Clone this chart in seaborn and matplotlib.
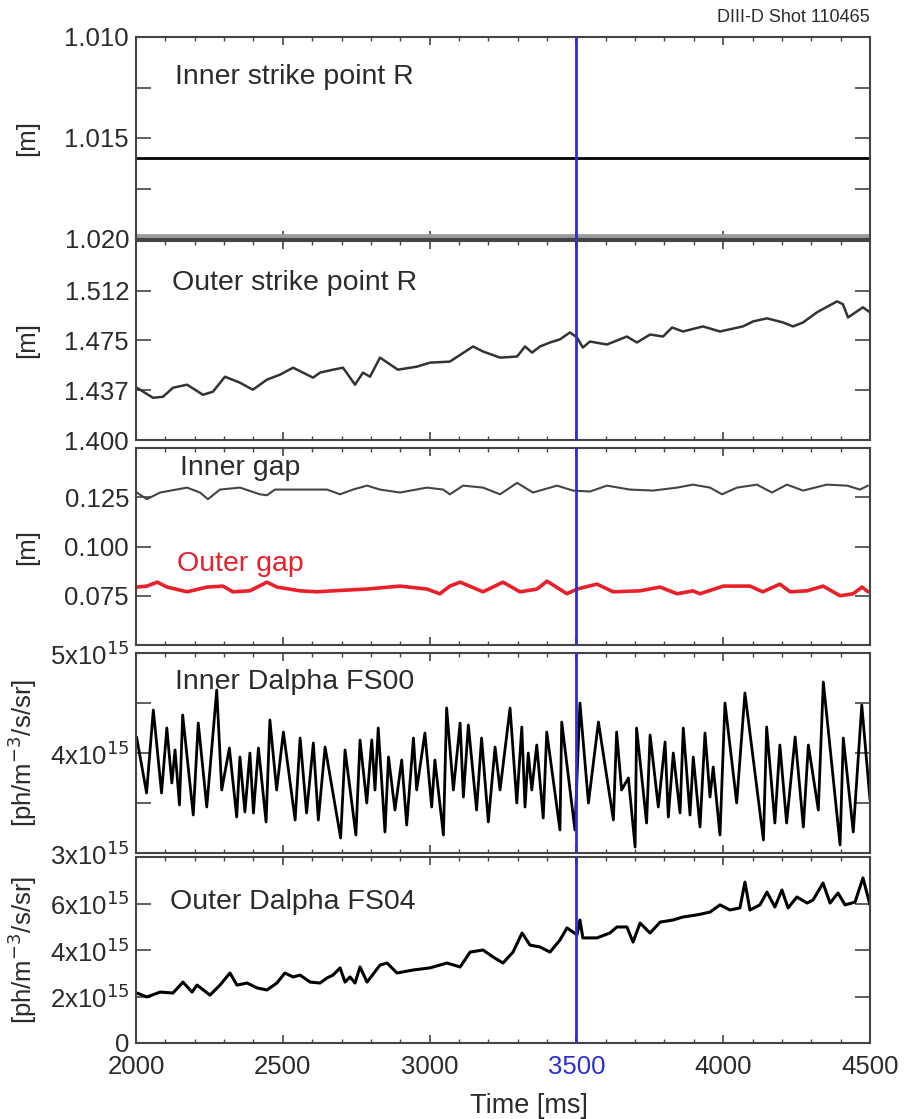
import numpy as np
import pandas as pd
import seaborn as sns
import matplotlib.pyplot as plt

sns.set_style("ticks")
plt.rcParams['font.family'] = ['Liberation Sans', 'DejaVu Sans']

# time base shared by all panels [ms]
t_start, t_end, t_marker = 2000, 4500, 3500

# inner strike point R [m] (flat trace + clipped trace at the axis limit)
isp_t = [2000, 4500]
isp_r = [1.0160, 1.0160]
isp_clip_r = [1.0200, 1.0200]

# outer strike point R [m]
osp_t = [2003, 2058, 2092, 2126, 2174, 2228, 2262, 2303, 2354, 2398, 2446, 2490, 2535,
         2603, 2627, 2671, 2705, 2746, 2773, 2797, 2831, 2892, 2957, 3001, 3069, 3148,
         3182, 3240, 3298, 3325, 3349, 3376, 3410, 3444, 3478, 3502, 3522, 3546, 3604,
         3672, 3706, 3751, 3795, 3826, 3863, 3931, 3989, 4067, 4102, 4149, 4204, 4238,
         4272, 4319, 4357, 4388, 4408, 4425, 4476, 4500]
osp_r = [1.4394, 1.4318, 1.4326, 1.4394, 1.4417, 1.4341, 1.4364, 1.4477, 1.4432, 1.4379,
         1.4455, 1.4492, 1.4545, 1.4470, 1.4508, 1.4530, 1.4545, 1.4417, 1.4508, 1.4477,
         1.4621, 1.4530, 1.4553, 1.4583, 1.4591, 1.4705, 1.4667, 1.4621, 1.4629, 1.4705,
         1.4659, 1.4705, 1.4735, 1.4758, 1.4811, 1.4773, 1.4697, 1.4742, 1.4720, 1.4780,
         1.4735, 1.4795, 1.4780, 1.4848, 1.4818, 1.4856, 1.4818, 1.4856, 1.4894, 1.4917,
         1.4886, 1.4856, 1.4886, 1.4962, 1.5008, 1.5045, 1.5023, 1.4924, 1.5000, 1.4962]

# inner / outer gap [m]
igap_t = [2003, 2037, 2082, 2174, 2218, 2245, 2286, 2354, 2422, 2446, 2473, 2559, 2651,
          2695, 2739, 2787, 2831, 2899, 2991, 3046, 3069, 3114, 3182, 3240, 3298, 3352,
          3434, 3488, 3546, 3604, 3682, 3761, 3843, 3897, 3955, 3996, 4047, 4115, 4166,
          4217, 4272, 4353, 4422, 4466, 4493]
igap = [0.1274, 0.1240, 0.1274, 0.1299, 0.1274, 0.1240, 0.1289, 0.1299, 0.1265, 0.1260,
        0.1289, 0.1289, 0.1289, 0.1265, 0.1289, 0.1309, 0.1289, 0.1274, 0.1299, 0.1289,
        0.1265, 0.1309, 0.1299, 0.1265, 0.1323, 0.1274, 0.1309, 0.1284, 0.1279, 0.1309,
        0.1289, 0.1284, 0.1299, 0.1314, 0.1299, 0.1265, 0.1299, 0.1314, 0.1274, 0.1314,
        0.1284, 0.1314, 0.1309, 0.1289, 0.1309]
ogap_t = [2003, 2037, 2072, 2106, 2174, 2242, 2296, 2330, 2388, 2446, 2480, 2559, 2616,
          2671, 2787, 2899, 2991, 3035, 3069, 3104, 3182, 3250, 3308, 3366, 3400, 3468,
          3502, 3570, 3625, 3717, 3785, 3843, 3897, 3921, 4000, 4091, 4135, 4193, 4228,
          4286, 4340, 4398, 4442, 4473, 4493]
ogap = [0.0794, 0.0799, 0.0819, 0.0794, 0.0770, 0.0794, 0.0799, 0.0770, 0.0775, 0.0819,
        0.0794, 0.0775, 0.0770, 0.0775, 0.0784, 0.0799, 0.0784, 0.0760, 0.0799, 0.0819,
        0.0770, 0.0819, 0.0770, 0.0784, 0.0824, 0.0760, 0.0784, 0.0809, 0.0770, 0.0775,
        0.0794, 0.0760, 0.0775, 0.0760, 0.0799, 0.0799, 0.0770, 0.0809, 0.0770, 0.0775,
        0.0799, 0.0750, 0.0760, 0.0794, 0.0770]

# inner Dalpha FS00 [1e15 ph/m-3/s/sr]
ida_t = [2002, 2036, 2059, 2087, 2105, 2122, 2133, 2148, 2159, 2195, 2212, 2241, 2275,
         2292, 2318, 2343, 2354, 2371, 2388, 2400, 2417, 2443, 2456, 2479, 2502, 2542,
         2559, 2581, 2604, 2621, 2644, 2697, 2712, 2749, 2763, 2786, 2803, 2814, 2825,
         2848, 2860, 2882, 2905, 2922, 2945, 2956, 2984, 3007, 3018, 3047, 3058, 3081,
         3104, 3115, 3132, 3160, 3177, 3200, 3223, 3240, 3274, 3297, 3314, 3325, 3336,
         3348, 3365, 3387, 3399, 3444, 3450, 3495, 3512, 3541, 3575, 3626, 3637, 3654,
         3677, 3700, 3705, 3739, 3751, 3779, 3802, 3813, 3830, 3853, 3864, 3887, 3898,
         3921, 3938, 3955, 3966, 3989, 4006, 4046, 4074, 4137, 4148, 4176, 4193, 4216,
         4245, 4273, 4290, 4324, 4341, 4398, 4409, 4443, 4472, 4500]
ida = [4.16, 3.60, 4.43, 3.60, 4.25, 3.70, 4.03, 3.48, 4.38, 3.38, 4.30, 3.46, 4.63,
       3.63, 4.05, 3.36, 3.96, 3.41, 4.00, 3.40, 4.05, 3.31, 4.33, 3.63, 4.21, 3.33,
       4.15, 3.40, 4.10, 3.33, 4.06, 3.15, 4.03, 3.18, 4.13, 3.50, 4.13, 3.63, 4.25,
       3.21, 3.96, 3.43, 3.93, 3.28, 4.15, 3.63, 4.20, 3.46, 3.93, 3.18, 4.45, 3.63,
       4.30, 3.56, 4.28, 3.43, 4.15, 3.31, 4.06, 3.63, 4.45, 3.50, 4.26, 3.46, 4.00,
       3.63, 4.08, 3.35, 4.21, 3.23, 4.31, 3.23, 4.50, 3.50, 4.31, 3.33, 4.21, 3.63,
       3.75, 3.06, 4.25, 3.30, 4.18, 3.46, 4.11, 3.36, 4.00, 3.40, 4.25, 3.38, 3.96,
       3.26, 4.20, 3.56, 3.86, 3.18, 4.50, 3.50, 4.60, 3.13, 4.26, 3.30, 4.08, 3.30,
       4.16, 3.26, 4.08, 3.43, 4.71, 3.08, 4.15, 3.21, 4.48, 3.53]

# outer Dalpha FS04 [1e15 ph/m-3/s/sr]
oda_t = [2003, 2037, 2082, 2126, 2160, 2191, 2208, 2252, 2286, 2320, 2344, 2378, 2412,
         2446, 2480, 2507, 2535, 2559, 2593, 2627, 2651, 2671, 2695, 2712, 2729, 2746,
         2763, 2787, 2831, 2855, 2889, 2944, 3001, 3059, 3104, 3138, 3182, 3216, 3250,
         3284, 3315, 3342, 3376, 3410, 3444, 3468, 3502, 3512, 3522, 3570, 3614, 3638,
         3672, 3693, 3717, 3751, 3785, 3829, 3863, 3911, 3955, 3989, 4023, 4057, 4074,
         4091, 4125, 4149, 4176, 4200, 4221, 4251, 4286, 4306, 4340, 4364, 4391, 4415,
         4449, 4476, 4500]
oda = [2.15, 1.98, 2.19, 2.15, 2.62, 2.19, 2.49, 2.06, 2.49, 3.01, 2.49, 2.58, 2.37,
       2.28, 2.58, 3.01, 2.84, 2.92, 2.62, 2.58, 2.80, 2.92, 3.23, 2.62, 2.84, 2.58,
       3.27, 2.62, 3.35, 3.44, 3.01, 3.14, 3.23, 3.44, 3.27, 3.91, 4.00, 3.70, 3.44,
       3.91, 4.73, 4.21, 4.13, 3.91, 4.43, 4.95, 4.65, 5.29, 4.52, 4.52, 4.73, 4.99,
       4.99, 4.34, 5.16, 4.73, 5.20, 5.29, 5.42, 5.51, 5.63, 5.94, 5.72, 5.81, 6.92,
       5.72, 5.94, 6.49, 5.85, 6.58, 5.81, 6.28, 6.02, 6.15, 6.88, 6.02, 6.45, 5.94,
       6.06, 7.10, 5.94]

txt = '#2b2b2b'
marker_blue = '#2e2ed0'
fs_tick = 18.5
fs_lab = 18.5
fs_panel = 20.5

fig = plt.figure(figsize=(9.05, 11.19), dpi=100)
W, H = 905, 1119
left, right = 136, 870
panel_px = [(37, 239), (241, 440), (448, 645), (653, 853), (857, 1043)]
axes = []
for top, bot in panel_px:
    ax = fig.add_axes([left / W, 1 - bot / H, (right - left) / W, (bot - top) / H])
    axes.append(ax)
ax1, ax2, ax3, ax4, ax5 = axes

# panel 1
sns.lineplot(x=isp_t, y=isp_clip_r, ax=ax1, color='#9a9a9a', lw=7)
sns.lineplot(x=isp_t, y=isp_r, ax=ax1, color='black', lw=2)
ax1.set_ylim(1.020, 1.010)
ax1.set_yticks([1.010, 1.015, 1.020])
ax1.set_yticklabels(['1.010', '1.015', '1.020'])
ax1.set_yticks([1.0125, 1.0175], minor=True)
ax1.text(0.053, 0.80, 'Inner strike point R', transform=ax1.transAxes,
         fontsize=fs_panel, color=txt, va='center')

# panel 2
sns.lineplot(x=osp_t, y=osp_r, ax=ax2, color='#333333', lw=1.8)
ax2.set_ylim(1.400, 1.550)
ax2.set_yticks([1.400, 1.4375, 1.475, 1.5125])
ax2.set_yticklabels(['1.400', '1.437', '1.475', '1.512'])
ax2.text(0.049, 0.79, 'Outer strike point R', transform=ax2.transAxes,
         fontsize=fs_panel, color=txt, va='center')

# panel 3
sns.lineplot(x=igap_t, y=igap, ax=ax3, color='#444444', lw=1.5)
sns.lineplot(x=ogap_t, y=ogap, ax=ax3, color='#e8202a', lw=2.6)
ax3.set_ylim(0.050, 0.150)
ax3.set_yticks([0.075, 0.100, 0.125])
ax3.set_yticklabels(['0.075', '0.100', '0.125'])
ax3.text(0.060, 0.90, 'Inner gap', transform=ax3.transAxes,
         fontsize=fs_panel, color=txt, va='center')
ax3.text(0.056, 0.41, 'Outer gap', transform=ax3.transAxes,
         fontsize=fs_panel, color='#e8202a', va='center')

# panel 4
sns.lineplot(x=ida_t, y=ida, ax=ax4, color='black', lw=2.0)
ax4.set_ylim(3, 5)
ax4.set_yticks([3, 4, 5])
ax4.set_yticklabels([r'3x10$^{15}$', r'4x10$^{15}$', r'5x10$^{15}$'])
ax4.set_yticks([3.5, 4.5], minor=True)
ax4.text(0.053, 0.855, 'Inner Dalpha FS00', transform=ax4.transAxes,
         fontsize=fs_panel, color=txt, va='center')

# panel 5
sns.lineplot(x=oda_t, y=oda, ax=ax5, color='black', lw=2.2)
ax5.set_ylim(0, 8)
ax5.set_yticks([0, 2, 4, 6])
ax5.set_yticklabels(['0', r'2x10$^{15}$', r'4x10$^{15}$', r'6x10$^{15}$'])
ax5.text(0.046, 0.76, 'Outer Dalpha FS04', transform=ax5.transAxes,
         fontsize=fs_panel, color=txt, va='center')

for i, ax in enumerate(axes):
    ax.axvline(t_marker, color=marker_blue, lw=2, zorder=5)
    ax.set_xlim(t_start, t_end)
    ax.set_xticks(np.arange(t_start, t_end + 1, 500))
    ax.set_xticks(np.arange(t_start, t_end + 1, 100), minor=True)
    ax.tick_params(axis='both', which='both', direction='in', top=True, right=True,
                   colors='#444444', labelcolor=txt, labelsize=fs_tick)
    ax.tick_params(axis='y', which='both', length=11, width=1.2, pad=5)
    ax.tick_params(axis='x', which='major', length=6, width=1.2)
    ax.tick_params(axis='x', which='minor', length=3, width=1)
    for sp in ax.spines.values():
        sp.set_color('#444444')
        sp.set_linewidth(1.5)
    ax.set_xlabel('')
    if i < 4:
        ax.tick_params(axis='x', labelbottom=False)
    if i < 3:
        ax.set_ylabel('[m]', fontsize=fs_lab, color=txt)
    else:
        ax.set_ylabel(r'[ph/m$^{-3}$/s/sr]', fontsize=fs_lab, color=txt)
    ax.yaxis.set_label_coords(-0.132, 0.5)

ax5.set_xlabel('Time [ms]', fontsize=fs_panel - 1, color=txt)
ax5.xaxis.set_label_coords(0.535, -0.27)
ax5.tick_params(axis='x', pad=9)
for lab in ax5.get_xticklabels():
    if lab.get_text() == '3500':
        lab.set_color(marker_blue)

fig.text(870 / W, 1 - 18 / H, 'DIII-D Shot 110465', ha='right', va='center',
         fontsize=13, color=txt)

fig.savefig('out.png', dpi=100)
